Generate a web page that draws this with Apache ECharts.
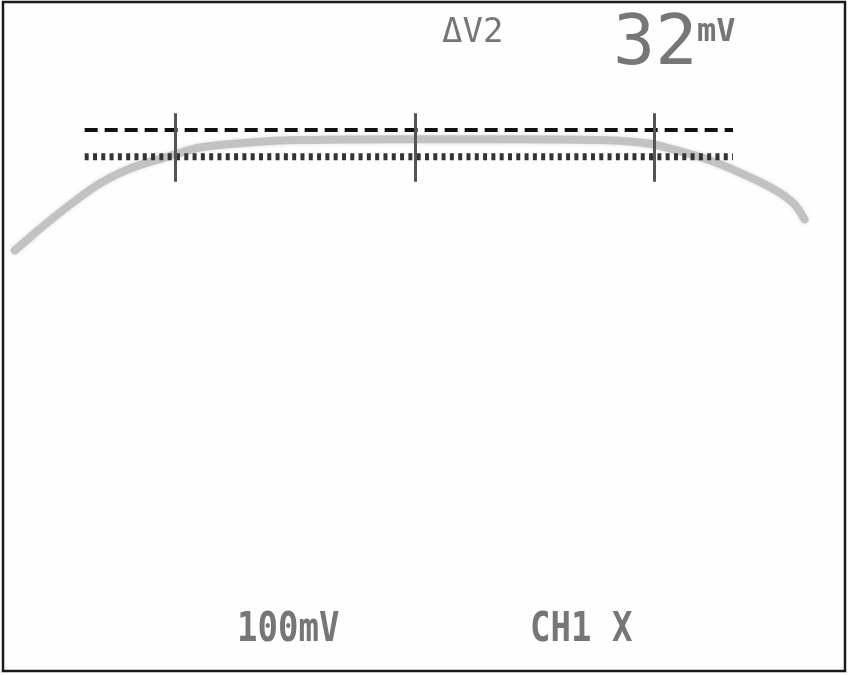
<!DOCTYPE html>
<html>
<head>
<meta charset="utf-8">
<script src="https://cdn.jsdelivr.net/npm/echarts@6/dist/echarts.min.js"></script>
<style>html,body{margin:0;padding:0;background:#fff}#c{width:848px;height:675px}</style>
</head>
<body>
<div id="c"></div>
<script>
// x in divisions (0..10), y in mV (100 mV/div, -400..400)
const traceX = [0.14, 0.36, 0.56, 0.88, 1.15, 1.54, 2.02, 2.34, 2.93, 3.53, 4.90, 5.90, 7.09, 7.57, 7.80, 8.36, 8.75, 9.14, 9.38, 9.52];
const traceY = [103, 122, 139, 164, 183, 202, 217, 226, 232, 235, 236, 236, 235, 232, 228, 212, 196, 177, 160, 140];
const cursorX = [0.97, 8.67];
const cursorDashed = 247;
const cursorDotted = 215;
const tickX = [2.04, 4.90, 7.74];
const tickY = [267, 185];
const labels = { delta: 'ΔV2', value: '32', unit: 'mV', scale: '100mV', channel: 'CH1 X' };

const chart = echarts.init(document.getElementById('c'), null, { renderer: 'canvas' });
const trace = traceX.map((x, i) => [x, traceY[i]]);
const txt = (text, x, y, size, weight, sy) => ({
  type: 'text', x: x, y: y, scaleY: sy || 1,
  style: { text: text, x: 0, y: 0, fill: '#767676', font: weight + ' ' + size + 'px "DejaVu Sans Mono"', textVerticalAlign: 'middle' }
});
chart.setOption({
  animation: false,
  backgroundColor: '#ffffff',
  grid: { left: 3, top: 2, right: 3, bottom: 4, show: true, borderColor: '#1a1a1a', borderWidth: 2.5, backgroundColor: '#fefefe' },
  xAxis: { type: 'value', min: 0, max: 10, show: false },
  yAxis: { type: 'value', min: -400, max: 400, show: false },
  series: [
    { type: 'line', data: trace, smooth: 0.3, symbol: 'none', lineStyle: { color: '#c2c2c2', width: 8, join: 'round', cap: 'round', shadowBlur: 4, shadowColor: 'rgba(0,0,0,0.12)' }, z: 1 },
    { type: 'line', data: cursorX.map(x => [x, cursorDashed]), symbol: 'none', lineStyle: { color: '#111', width: 4, type: [13, 7], cap: 'butt' }, z: 3 },
    { type: 'line', data: cursorX.map(x => [x, cursorDotted]), symbol: 'none', lineStyle: { color: '#333', width: 7, type: [4, 4.3], cap: 'butt' }, z: 3 },
    { type: 'line', data: [], symbol: 'none', z: 4,
      markLine: { silent: true, symbol: 'none', label: { show: false },
        lineStyle: { color: '#555', width: 3, type: 'solid' },
        data: tickX.map(x => [{ coord: [x, tickY[0]] }, { coord: [x, tickY[1]] }]) } }
  ],
  graphic: [
    txt(labels.delta, 442, 33, 34, 'normal', 1),
    txt(labels.value, 613, 46, 70, 'normal', 1),
    txt(labels.unit, 697, 33, 32, 'bold', 1),
    txt(labels.scale, 237, 630, 34, 'bold', 1.2),
    txt(labels.channel, 530, 630, 34, 'bold', 1.2)
  ]
});
</script>
</body>
</html>
